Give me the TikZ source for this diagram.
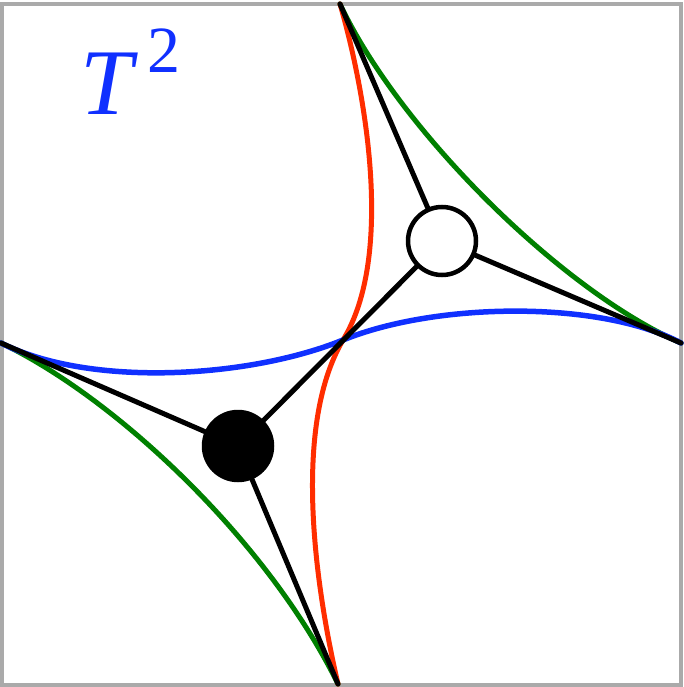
\documentclass[tikz,border=0pt]{standalone}
\usepackage{fontspec}
\setmainfont{Liberation Serif}
\definecolor{frame}{RGB}{170,170,170}
\definecolor{cblue}{RGB}{16,48,255}
\definecolor{cred}{RGB}{255,45,0}
\definecolor{cgreen}{RGB}{0,128,0}
\begin{document}
\begin{tikzpicture}[x=1pt,y=-1pt,
  curve/.style={line width=5pt,line cap=round},
  edge/.style={line width=5pt,line cap=round,black},
  vert/.style={circle,minimum size=68pt,inner sep=0pt,line width=4.5pt,draw=black}]
\useasboundingbox (0,0) rectangle (684,687);
\draw[frame,line width=4pt] (1.5,4) rectangle (680.7,684.5);
\coordinate (top) at (340,4);
\coordinate (right) at (681,343);
\coordinate (left) at (1,343);
\coordinate (bottom) at (338,684);
\coordinate (mid) at (343,340);
% curves
\draw[curve,cgreen] (top) .. controls (398,128) and (560,290) .. (right);
\draw[curve,cgreen] (left) .. controls (120,400) and (270,545) .. (bottom);
\draw[curve,cred] (top) .. controls (365,90) and (395,255) .. (mid)
  .. controls (290,430) and (318,598) .. (bottom);
\draw[curve,cblue,line width=5.5pt] (left) .. controls (90,388) and (250,378) .. (mid)
  .. controls (436,302) and (600,300) .. (right);
% vertices
\node[vert,fill=white] (wc) at (442,241) {};
\node[vert,fill=black] (bc) at (238,446) {};
\draw[edge] (wc) -- (top);
\draw[edge] (wc) -- (right);
\draw[edge] (wc) -- (bc);
\draw[edge] (bc) -- (left);
\draw[edge] (bc) -- (bottom);
% label
\node[anchor=base west,inner sep=0pt,text=cblue] (lbl) at (80,115)
  {\fontsize{94}{94}\selectfont\itshape T\/\kern9pt\raisebox{42pt}{\fontsize{66}{66}\selectfont\upshape 2}};
\end{tikzpicture}
\end{document}
